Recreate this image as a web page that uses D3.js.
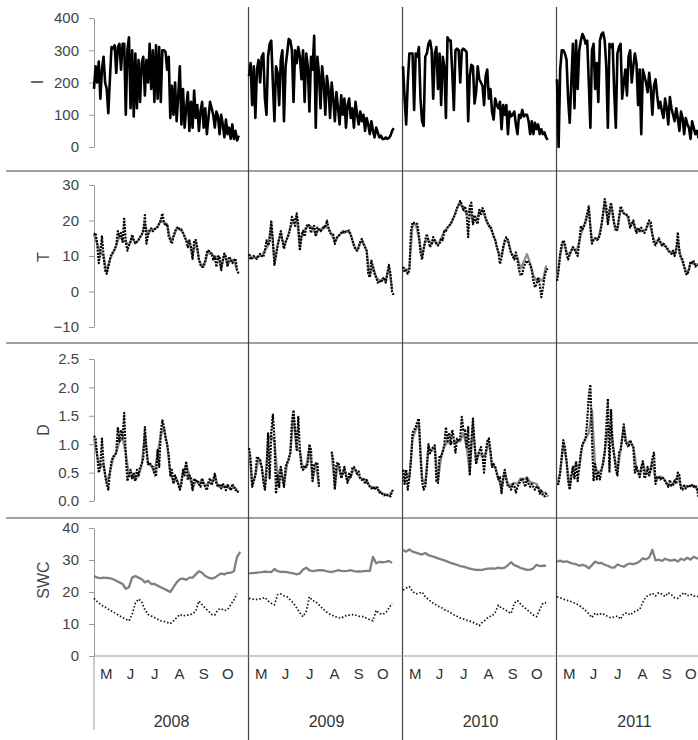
<!DOCTYPE html>
<html>
<head>
<meta charset="utf-8">
<script src="https://cdn.jsdelivr.net/npm/d3@7"></script>
<style>
body { margin: 0; background: #fff; }
svg { display: block; font-family: Arial, "Liberation Sans", sans-serif; }
</style>
</head>
<body>
<svg width="698" height="740"></svg>
<script>
// ---- data (daily series sampled every 2 days, gray/SWC every 4 days, day 0 = 1 May) ----
var years = ["2008", "2009", "2010", "2011"];
var months = ["M", "J", "J", "A", "S", "O"];
var monthMidDay = [15.5, 46, 76.5, 107.5, 138, 168.5];

var iTicks = [0, 100, 200, 300, 400];
var tTicks = [-10, 0, 10, 20, 30];
var dTicks = [0, 0.5, 1, 1.5, 2, 2.5];
var swcTicks = [0, 10, 20, 30, 40];

var I_2008 = [180,250,200,265,150,240,280,200,180,105,210,310,305,315,230,310,320,240,320,320,100,300,340,120,300,95,290,120,270,140,260,280,160,270,200,320,180,300,140,315,150,310,140,300,300,295,240,280,90,190,100,200,80,160,250,70,180,60,120,170,50,140,60,175,90,130,50,110,140,60,120,40,90,140,120,100,60,110,95,40,100,70,30,85,40,60,25,70,25,50,20,35];
var I_2009 = [220,260,130,250,90,240,270,200,280,290,150,100,280,320,330,200,80,250,230,130,270,300,80,250,290,335,330,300,140,300,260,310,280,210,300,140,290,250,110,280,240,345,60,280,230,120,250,200,100,220,180,90,200,150,80,170,120,70,160,100,150,60,130,150,90,120,60,140,100,70,110,80,100,50,90,70,40,80,50,30,60,45,30,35,25,25,30,25,28,35,50,58];
var I_2010 = [250,150,70,200,290,290,290,115,290,280,310,150,80,65,280,290,320,330,300,150,290,310,180,290,130,280,250,90,340,330,330,230,115,300,305,300,200,300,305,300,295,80,220,255,250,135,170,250,210,200,190,130,220,240,150,180,110,85,150,130,120,140,55,130,100,130,40,110,95,100,110,70,40,100,90,115,95,100,100,80,40,80,40,75,55,70,40,55,40,45,30,22];
var I_2011 = [210,0,240,300,300,290,270,150,75,200,320,120,330,180,300,330,350,340,320,330,200,60,300,320,180,260,140,330,350,355,330,250,60,320,310,320,170,60,290,310,320,150,200,240,160,280,300,200,250,290,260,130,240,40,240,220,200,170,230,180,100,190,210,160,120,140,110,90,150,120,70,155,120,100,80,120,90,50,110,90,40,90,70,60,25,80,60,40,50,30,40,20];

var T_black_2008 = [16,16.5,13.5,8,11,15.5,10,6,5,7,9,10.7,11,11.8,13,17,15.5,16.5,14,20.5,14,11.5,13,14,16,14.5,13.5,14,14.5,15.4,16,17,21.5,13.5,16,17.5,17.8,17,17.5,17.8,18.2,19.2,20,22,19.5,18.5,19,15.5,14.5,13.5,15.4,17,17.8,18.2,17.5,17.5,16.5,15.5,14.4,12.5,14.4,12.5,9.2,14.4,14.5,12.5,9,7.5,6.9,7,8.5,11,11.6,10.7,10.7,9,9.8,6.9,9.8,10,6,8.8,10.7,9.8,7,9.8,9,8,8.8,9.3,6,5];
var T_black_2009 = [10.5,9,9.5,10,9.5,9.2,10,10.6,10,9.7,11.5,14.4,13,14,20,14.5,7.5,10,13,15,17,14.5,12,14,15,16,18,21,20,18.5,22,19,11.5,16,17,15.5,18,19,18.5,16.5,18,18.5,15.5,18,17.5,17,17.5,18.5,18,20,18,16.5,16,16,13.4,15,15.5,16,16.5,17,16.5,17,17,17.2,16,14.5,13,11.8,11.5,12.3,14,14.8,13.5,12.5,11.5,5,4,8.7,7,5,4,2.5,3,2.5,3.5,4,2.5,5,7.5,5,0,-1];
var T_black_2010 = [6.9,5.5,6,5,6,17,19.5,19.3,19.2,19,16,11,9,12,14.5,16.2,14.4,12.5,13.4,15.3,14.4,13.4,13,13.4,15,14.4,17,17,18,18.5,19,20,21,22,23.5,24.5,25.5,24.5,23,24,22,15.3,24,25,19,21.5,20,19,23,21.5,23.5,22.5,20.5,19.5,18.5,18.5,17,15.5,14.5,12.5,11,7.8,9.5,12.5,14.4,15.3,14.5,12.5,10.8,10,9,11,9,6,4.5,5,7,8,8.7,8,7.5,6,3,1.2,2,4,2,-1.6,1,4,6,6.5];
var T_black_2011 = [3,6,10.5,13.5,14.4,13.5,10.6,9,10.5,11.5,12.5,12,11,10,14,18.5,17.5,18.5,20,22,24,18,13.5,14.5,15,14.5,14.8,16,19,22,26,24,19,23,25,22.5,19,17,17.5,21,24,23,22,22,21.5,21,18,19,20,18,16.5,18,17,18,17,16.5,17.5,19,20,19.5,16,13.5,13,14,15,14,13,13.5,12.8,12.5,11.5,11,10.6,11.5,10,11.5,16.7,11,9.5,9,7,5,4.8,6,8.5,8,8.5,7,7.5,7.5,8,8];

var T_gray_2008 = [16,13.5,11,10,5.5,9,11,13,15.5,14.5,14,13,15.5,13.5,14.5,16,19,16,17.5,17.5,18.2,20,19.5,19,14.5,15.4,17.8,17.5,16.5,14.4,14,10,14,9,7,8.5,11.6,10.7,9.8,9.8,6.5,10.5,7.5,9,8.8,6];
var T_gray_2009 = [10.5,9.5,9.5,10,10,11.5,13,19,8.5,13,16.5,12.5,15,18,20,21,12.5,17,18,18.5,18,16,17.5,17.5,18,18,16,14,15.5,16.5,16.5,17,16,13,11.5,14,13.5,11.5,4.5,7,4,3,3.5,3,7,0.5];
var T_gray_2010 = [7,6,6.5,18.5,19,15,10,14,14.5,13.5,14.5,13,15,17,18,19,21,23.5,25,23,22,23,19.5,20,22.5,23,20.5,18.5,17,14.5,11,10,14,14.5,11,9.5,9.5,6.5,8.5,10.5,8,4.5,3,3.5,3,7.3];
var T_gray_2011 = [3.5,10.5,14,11,10.5,12.5,11,14,17.5,19.5,23,14,15,15,18.5,25,19.5,24,19,17.5,23,22,21.5,18.5,19.5,17,17,17,17.5,19.5,16,13.5,14.5,13,13,11.5,11,10.5,14,9.5,7,5,8,8,7.5,8];

var D_black_2008 = [1.15,1.1,0.8,0.5,0.6,1.1,0.65,0.45,0.3,0.2,0.5,0.7,0.78,0.8,0.85,1.3,1.05,1.25,1.1,1.55,0.8,0.35,0.45,0.55,0.4,0.5,0.35,0.55,0.45,0.6,0.65,0.75,1.3,0.9,0.65,0.68,0.62,0.6,0.48,0.43,0.9,0.6,1.2,1.42,1.3,1.1,1.0,0.8,0.45,0.55,0.3,0.45,0.38,0.3,0.2,0.3,0.55,0.45,0.7,0.37,0.45,0.42,0.19,0.4,0.34,0.37,0.3,0.25,0.4,0.3,0.25,0.19,0.33,0.4,0.28,0.35,0.48,0.31,0.25,0.3,0.22,0.31,0.25,0.19,0.28,0.25,0.19,0.3,0.25,0.19,0.2,0.13];
var D_black_2009 = [0.93,0.75,0.25,0.35,0.45,0.78,0.75,0.72,0.6,0.35,0.2,0.5,1.19,0.4,1.2,1.52,1.1,0.13,0.45,0.25,0.6,0.4,0.25,0.6,0.67,0.73,0.85,1.4,1.6,1.25,0.9,1.48,0.9,0.6,0.55,0.63,0.6,0.66,1.0,0.9,0.35,0.65,0.66,0.68,0.25,null,null,null,null,null,null,null,0.87,0.72,0.2,0.65,0.68,0.6,0.4,0.48,0.6,0.45,0.32,0.48,0.42,0.58,0.6,0.55,0.48,0.52,0.4,0.37,0.4,0.3,0.37,0.3,0.25,0.22,0.25,0.2,0.25,0.23,0.15,0.16,0.12,0.1,0.12,0.1,0.1,0.08,0.17,0.2];
var D_black_2010 = [0.55,0.3,0.55,0.2,0.42,0.7,1.2,1.25,1.3,1.4,1.45,0.8,0.35,0.2,0.25,0.55,1.0,0.84,0.9,0.95,0.98,0.35,0.32,0.8,0.78,0.88,1.0,1.3,1.05,1.2,1.0,1.25,1.1,0.85,1.1,1.05,1.1,1.48,1.25,1.25,0.95,1.3,0.45,1.05,1.45,1.0,0.65,0.8,0.88,0.95,0.8,0.5,0.85,1.05,1.1,0.9,0.6,0.65,0.6,0.48,0.38,0.42,0.14,0.42,0.55,0.38,0.25,0.25,0.2,0.3,0.27,0.15,0.25,0.3,0.35,0.4,0.32,0.25,0.4,0.3,0.25,0.3,0.25,0.2,0.25,0.25,0.13,0.18,0.1,0.08,0.13,0.08];
var D_black_2011 = [0.3,0.3,0.5,0.8,1.07,0.95,0.7,0.35,0.2,0.45,0.6,0.4,0.7,0.35,0.6,0.85,1.0,1.05,1.1,1.4,1.85,2.05,1.1,0.35,0.65,0.38,0.5,0.38,0.55,0.65,0.85,1.3,1.8,0.5,1.6,1.0,0.8,0.55,0.45,0.85,0.9,1.1,1.35,1.05,1.0,0.95,1.07,1.0,0.95,0.5,0.6,0.5,0.42,0.6,0.7,0.4,0.45,0.6,0.45,0.55,0.75,0.85,0.3,0.42,0.43,0.38,0.42,0.4,0.35,0.3,0.25,0.37,0.27,0.28,0.36,0.3,0.5,0.45,0.22,0.2,0.27,0.22,0.25,0.28,0.25,0.28,0.25,0.28,0.22,0.08,0.1,0.1];

var D_gray_2008 = [1.1,0.8,0.6,0.65,0.32,0.5,0.75,0.85,1.05,1.1,0.85,0.45,0.42,0.38,0.45,0.62,1.2,0.65,0.62,0.5,0.85,1.15,1.3,1.0,0.48,0.33,0.38,0.22,0.5,0.65,0.45,0.22,0.35,0.3,0.38,0.26,0.32,0.3,0.45,0.26,0.24,0.26,0.27,0.2,0.25,0.2];
var D_gray_2009 = [0.9,0.3,0.45,0.75,0.6,0.22,1.1,1.15,1.05,0.45,0.58,0.28,0.66,0.85,1.5,0.92,0.88,0.55,0.6,0.95,0.38,0.65,0.28,null,null,null,0.85,0.25,0.66,0.42,0.58,0.34,0.43,0.58,0.48,0.4,0.39,0.36,0.26,0.24,0.24,0.16,0.13,0.12,0.1,0.17];
var D_gray_2010 = [0.55,0.5,0.4,1.1,1.25,1.35,0.4,0.3,0.95,0.88,0.95,0.35,0.78,0.95,1.05,1.0,1.05,1.05,1.05,1.2,0.95,0.5,1.35,0.68,0.85,0.78,0.82,1.05,0.62,0.6,0.4,0.2,0.5,0.3,0.28,0.32,0.3,0.4,0.38,0.42,0.33,0.32,0.3,0.2,0.15,0.15];
var D_gray_2011 = [0.3,0.5,1.0,0.7,0.25,0.58,0.65,0.6,0.98,1.1,1.2,1.6,0.6,0.5,0.55,0.85,1.25,1.3,0.8,0.5,0.9,1.3,1.0,1.05,0.95,0.6,0.45,0.68,0.48,0.48,0.7,0.35,0.43,0.42,0.36,0.27,0.28,0.35,0.45,0.24,0.27,0.26,0.26,0.26,0.22,0.12];

var SWC_gray_2008 = [25,24.5,24.3,24.5,24.4,24.3,24,23.5,23,22.5,21,21.5,24.5,25,24.5,24,23,23.5,22.5,22.5,22,21.5,21,20.5,20,21.5,23,24,24.2,23.8,24.5,24.5,25.5,26.5,26,25,24.5,24.2,24.5,25.2,25.8,25.5,26,26,26.5,31,32.5];
var SWC_gray_2009 = [25.8,25.9,26,26.1,26.2,26.4,26.3,26.2,27.2,26.5,26.3,26.3,26.2,26,25.8,25.5,25.8,27,27.6,26.8,26.5,26.7,26.8,26.8,26.6,26.4,26.2,26.5,26.8,26.6,26.5,26.6,26.8,26.5,26.4,26.4,26.5,26.6,26.6,31,29,29.4,29.3,29.4,29.7,29.1];
var SWC_gray_2010 = [33.1,32.6,33.3,32.6,32.3,32,31.7,32.2,31.5,31.2,30.9,30.5,30.2,29.9,29.5,29.1,28.8,28.5,28.1,27.9,27.6,27.3,27.1,26.9,26.9,26.9,27.2,27.3,27.4,27.3,27.6,27.4,27.6,28.4,29.3,28.4,28,27.5,27.2,26.9,27,27.4,28.5,28.1,28.2,28.2];
var SWC_gray_2011 = [29.5,29.8,29.4,29.6,29.2,28.9,28.7,28.2,28.5,28.2,27.4,28.4,29.5,29,29.1,28.5,28.2,27.7,27.6,28.6,28.2,27.9,28.6,28.9,28.7,29,29.6,30.5,30.2,30.8,33.2,29.9,30.1,29.7,30.4,30,29.8,30.1,29.5,30.4,30,30.7,30.1,31,30.5,30.6];

var SWC_black_2008 = [18,17,16.2,15.5,15,14.3,13.8,13.2,12.6,12,11.5,11,13,16.5,17.8,17,14.5,13,12.5,12,11.5,11,10.8,10.5,10.1,11,12,13,12.5,12.8,12.8,13.2,14,17.2,16,15,14,13,12.8,14.5,14.8,14.2,14.5,16,17.5,19.5];
var SWC_black_2009 = [18,17.8,17.6,17.8,17.9,18.3,17.2,16.5,16,19.2,19.4,18.8,18.5,17.5,16.5,15,13.5,12.3,14,18.5,17.3,17,16,15,14,13.3,12.8,12.3,12,11.8,12.5,12.7,12.8,13,12.6,12.3,12.3,11.8,11.3,11,14.3,13.3,13,13.5,15,16.5];
var SWC_black_2010 = [20.6,21.2,21.7,20.2,19.4,19.6,20,18.5,17.7,16.8,16.2,15.6,15.2,14.5,14.1,13.5,12.9,12.4,11.9,11.6,11.2,10.9,10.5,10.1,9.5,10.6,11.3,12.3,12.5,13.6,15.9,15,14.6,13.8,13.3,16.5,17.3,16.2,15.3,14.5,13.6,12.8,12.3,14.5,16.5,16.7];
var SWC_black_2011 = [18.5,18.2,17.8,17.4,17.2,16.8,16.3,15.8,15,14.2,13.2,12,13.4,12.8,13.3,12.9,12.3,11.9,12.2,12.5,11.5,13.2,13.5,12.8,13.6,14.2,14.5,16.8,18.5,19,19.6,18.8,19.8,19.3,18.6,19.8,19.1,18.2,18,19.1,19.8,18.8,19.3,18.8,18.5,18.8];

// ---- layout ----
var svg = d3.select("svg");
var colStart = [94, 249, 403, 557], colWidth = 155, dayMax = 195;
var xs = colStart.map(function(c) {
  return d3.scaleLinear().domain([0, dayMax]).range([c, c + colWidth]);
});

var rows = [
  { name: "I", ticks: iTicks, fmt: d3.format("d"), y: d3.scaleLinear().domain([0, 400]).range([147, 18]), lx: 43, ly: 82,
    series: [ { data: [I_2008, I_2009, I_2010, I_2011], step: 2, stroke: "#000", width: 2.6 } ] },
  { name: "T", ticks: tTicks, fmt: d3.format("d"), y: d3.scaleLinear().domain([-10, 30]).range([327, 185]), lx: 49, ly: 257,
    series: [ { data: [T_gray_2008, T_gray_2009, T_gray_2010, T_gray_2011], step: 4, stroke: "#8a8a8a", width: 2.2 },
              { data: [T_black_2008, T_black_2009, T_black_2010, T_black_2011], step: 2, stroke: "#000", width: 2.2, dash: "2,1.2" } ] },
  { name: "D", ticks: dTicks, fmt: d3.format(".1f"), y: d3.scaleLinear().domain([0, 2.5]).range([501, 359]), lx: 49, ly: 430,
    series: [ { data: [D_gray_2008, D_gray_2009, D_gray_2010, D_gray_2011], step: 4, stroke: "#8a8a8a", width: 2.2 },
              { data: [D_black_2008, D_black_2009, D_black_2010, D_black_2011], step: 2, stroke: "#000", width: 2.2, dash: "2,1.2" } ] },
  { name: "SWC", ticks: swcTicks, fmt: d3.format("d"), y: d3.scaleLinear().domain([0, 40]).range([656, 528]), lx: 49, ly: 580,
    series: [ { data: [SWC_gray_2008, SWC_gray_2009, SWC_gray_2010, SWC_gray_2011], step: 4, stroke: "#808080", width: 2.3 },
              { data: [SWC_black_2008, SWC_black_2009, SWC_black_2010, SWC_black_2011], step: 4, stroke: "#111", width: 1.7, dash: "1.5,2" } ] }
];

// separators
svg.selectAll("line.hsep").data([171, 343, 518]).enter().append("line")
  .attr("x1", 6).attr("x2", 698).attr("y1", function(d) { return d; }).attr("y2", function(d) { return d; })
  .attr("stroke", "#444").attr("stroke-width", 1.2);
svg.selectAll("line.vsep").data(colStart.slice(1)).enter().append("line")
  .attr("x1", function(d) { return d - 0.5; }).attr("x2", function(d) { return d - 0.5; })
  .attr("y1", 7).attr("y2", 740)
  .attr("stroke", "#444").attr("stroke-width", 1.2);

rows.forEach(function(r) {
  var g = svg.append("g");
  var ax = g.append("g").attr("transform", "translate(" + colStart[0] + ",0)")
    .call(d3.axisLeft(r.y).tickValues(r.ticks).tickFormat(r.fmt).tickSize(5).tickSizeOuter(0).tickPadding(10));
  ax.select(".domain").attr("stroke", "#999");
  ax.selectAll(".tick line").attr("stroke", "#999");
  ax.selectAll(".tick text").attr("fill", "#444").style("font-size", "15px").style("font-family", "Arial, 'Liberation Sans', sans-serif");

  g.append("text")
    .attr("transform", "translate(" + r.lx + "," + r.ly + ") rotate(-90)")
    .attr("text-anchor", "middle")
    .attr("fill", "#444").style("font-size", "16px")
    .text(r.name);

  r.series.forEach(function(s) {
    s.data.forEach(function(arr, c) {
      var line = d3.line()
        .defined(function(v) { return v != null; })
        .x(function(v, i) { return xs[c](i * s.step); })
        .y(function(v) { return r.y(v); });
      g.append("path")
        .attr("d", line(arr))
        .attr("fill", "none")
        .attr("stroke", s.stroke)
        .attr("stroke-width", s.width)
        .attr("stroke-linejoin", "round")
        .attr("stroke-dasharray", s.dash || null);
    });
  });
});

// SWC zero line and category axis
var swcY = rows[3].y;
svg.append("line").attr("x1", colStart[0]).attr("x2", 698)
  .attr("y1", swcY(0)).attr("y2", swcY(0)).attr("stroke", "#999");
svg.append("line").attr("x1", colStart[0]).attr("x2", colStart[0])
  .attr("y1", swcY(0)).attr("y2", 730).attr("stroke", "#999");

years.forEach(function(yr, c) {
  svg.selectAll(null).data(months).enter().append("text")
    .attr("x", function(m, i) { return xs[c](monthMidDay[i]); })
    .attr("y", 679)
    .attr("text-anchor", "middle")
    .attr("fill", "#333").style("font-size", "15px")
    .text(function(m) { return m; });
  svg.append("text")
    .attr("x", colStart[c] + colWidth / 2)
    .attr("y", 727)
    .attr("text-anchor", "middle")
    .attr("fill", "#333").style("font-size", "16px")
    .text(yr);
});
</script>
</body>
</html>
